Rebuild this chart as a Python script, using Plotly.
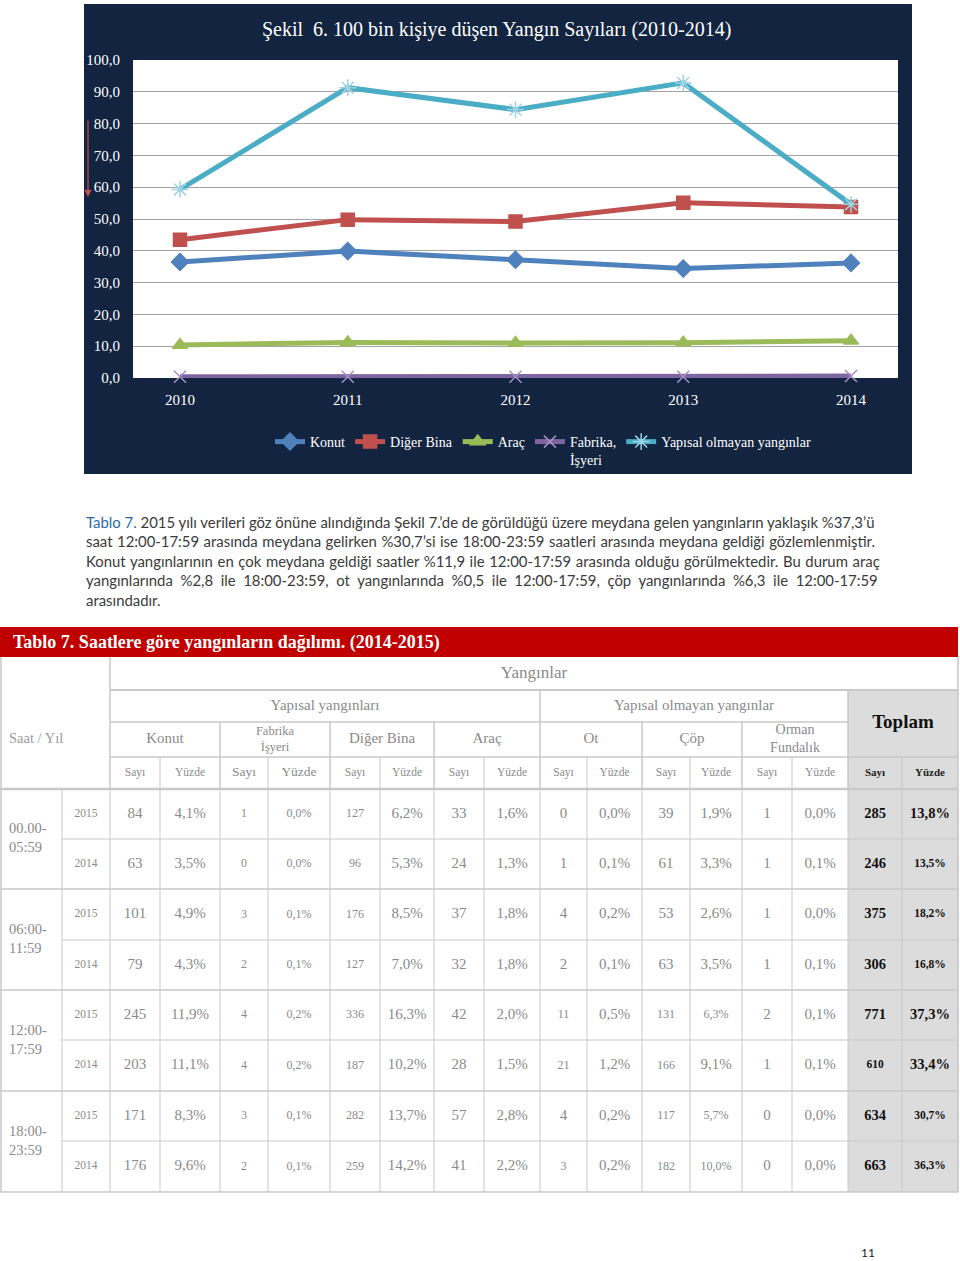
import plotly.graph_objects as go

W, H = 960, 1261

# ---------------- chart data ----------------
chart_years = ["2010", "2011", "2012", "2013", "2014"]
konut_rate = [36.5, 39.9, 37.2, 34.4, 36.2]
diger_bina_rate = [43.5, 49.8, 49.2, 55.1, 53.8]
arac_rate = [10.4, 11.2, 11.0, 11.1, 11.7]
fabrika_rate = [0.4, 0.4, 0.4, 0.4, 0.6]
yapisal_olmayan_rate = [59.3, 91.3, 84.4, 92.8, 54.6]
series_names = ["Konut", "Diğer Bina", "Araç", "Fabrika,<br>İşyeri", "Yapısal olmayan yangınlar"]
y_tick_values = [0, 10, 20, 30, 40, 50, 60, 70, 80, 90, 100]
chart_title = "Şekil  6. 100 bin kişiye düşen Yangın Sayıları (2010-2014)"

# ---------------- paragraph ----------------
para_lead = "Tablo 7."
para_lines = [
    " 2015 yılı verileri göz önüne alındığında Şekil 7.’de de görüldüğü üzere meydana gelen yangınların yaklaşık %37,3’ü",
    "saat 12:00-17:59 arasında meydana gelirken %30,7’si ise 18:00-23:59 saatleri arasında meydana geldiği gözlemlenmiştir.",
    "Konut yangınlarının en çok meydana geldiği saatler %11,9 ile 12:00-17:59 arasında olduğu görülmektedir. Bu durum araç",
    "yangınlarında %2,8 ile 18:00-23:59, ot yangınlarında %0,5 ile 12:00-17:59, çöp yangınlarında %6,3 ile 12:00-17:59",
    "arasındadır.",
]

# ---------------- table data ----------------
table_title = "Tablo 7. Saatlere göre yangınların dağılımı. (2014-2015)"
time_slots = ["00.00-<br>05:59", "06:00-<br>11:59", "12:00-<br>17:59", "18:00-<br>23:59"]
table_years = ["2015", "2014"]
fire_types = ["Konut", "Fabrika<br>İşyeri", "Diğer Bina", "Araç", "Ot", "Çöp", "Orman<br>Fundalık"]
sub_headers = ["Sayı", "Yüzde"]
page_number = "11"

konut_sayi = [84, 63, 101, 79, 245, 203, 171, 176]
konut_yuzde = [4.1, 3.5, 4.9, 4.3, 11.9, 11.1, 8.3, 9.6]
fabrika_sayi = [1, 0, 3, 2, 4, 4, 3, 2]
fabrika_yuzde = [0.0, 0.0, 0.1, 0.1, 0.2, 0.2, 0.1, 0.1]
diger_sayi = [127, 96, 176, 127, 336, 187, 282, 259]
diger_yuzde = [6.2, 5.3, 8.5, 7.0, 16.3, 10.2, 13.7, 14.2]
arac_sayi = [33, 24, 37, 32, 42, 28, 57, 41]
arac_yuzde = [1.6, 1.3, 1.8, 1.8, 2.0, 1.5, 2.8, 2.2]
ot_sayi = [0, 1, 4, 2, 11, 21, 4, 3]
ot_yuzde = [0.0, 0.1, 0.2, 0.1, 0.5, 1.2, 0.2, 0.2]
cop_sayi = [39, 61, 53, 63, 131, 166, 117, 182]
cop_yuzde = [1.9, 3.3, 2.6, 3.5, 6.3, 9.1, 5.7, 10.0]
orman_sayi = [1, 1, 1, 1, 2, 1, 0, 0]
orman_yuzde = [0.0, 0.1, 0.0, 0.1, 0.1, 0.1, 0.0, 0.0]
toplam_sayi = [285, 246, 375, 306, 771, 610, 634, 663]
toplam_yuzde = [13.8, 13.5, 18.2, 16.8, 37.3, 33.4, 30.7, 36.3]

# ---------------- style / layout ----------------
NAVY = "#12243f"
SERIF = "Liberation Serif"
SANS = "Lato"
GRID_GRAY = "#a3a3a3"
LINE_GRAY = "#c9c9c9"
TXT_GRAY = "#8a8a8a"

colors = ["#4f81bd", "#c0504d", "#9bbb59", "#8064a2", "#4bacc6"]
symbols = ["diamond", "square", "triangle-up", "x-thin-open", "asterisk-open"]
marker_colors = ["#4f81bd", "#c0504d", "#9bbb59", "#a390c4", "#9fd3e3"]
marker_sizes = [13, 13, 13, 12, 14]
para_word_spacing = [0.0, 0.7, 0.8, 3.8, 0.0]

col_edges = [110, 160, 220, 268, 330, 380, 434, 484, 540, 587, 642, 690, 742, 792, 848, 902, 958]
row_edges = [789, 839, 889, 940, 990, 1040, 1091, 1141, 1192]
hdr_edges = [657, 690, 722, 757, 789]
time_col_right = 62


def px(x):
    return x / W


def py(y):
    return 1 - y / H


fig = go.Figure()

# ---- line chart ----
series_vals = [konut_rate, diger_bina_rate, arac_rate, fabrika_rate, yapisal_olmayan_rate]
for i, (name, vals) in enumerate(zip(series_names, series_vals)):
    fig.add_trace(go.Scatter(
        x=chart_years, y=vals, name=name, mode="lines+markers",
        line=dict(color=colors[i], width=5),
        marker=dict(symbol=symbols[i], size=marker_sizes[i], color=marker_colors[i],
                    line=dict(width=1.5, color=marker_colors[i])),
        xaxis="x", yaxis="y", hoverinfo="skip", cliponaxis=False,
    ))

# ---- table text (single text trace on pixel-like axes) ----
xs, ys, texts, sizes, tcolors, tpos = [], [], [], [], [], []


def add_text(x, y, t, size, color=TXT_GRAY, pos="middle center"):
    xs.append(x); ys.append(y); texts.append(t); sizes.append(size); tcolors.append(color); tpos.append(pos)


def fmt_pct(v):
    return f"{v:.1f}".replace(".", ",") + "%"


columns = [konut_sayi, konut_yuzde, fabrika_sayi, fabrika_yuzde, diger_sayi, diger_yuzde,
           arac_sayi, arac_yuzde, ot_sayi, ot_yuzde, cop_sayi, cop_yuzde,
           orman_sayi, orman_yuzde, toplam_sayi, toplam_yuzde]

small_cells = set()
for r in range(8):
    small_cells.update({(r, 2), (r, 3), (r, 4)})
small_cells.update({(4, 8), (5, 8), (7, 8), (4, 10), (5, 10), (6, 10), (7, 10),
                    (4, 11), (6, 11), (7, 11), (1, 15), (2, 15), (3, 15), (6, 15), (7, 15), (5, 14)})

ncols = len(columns)
for c, col in enumerate(columns):
    cx = (col_edges[c] + col_edges[c + 1]) / 2
    for r, v in enumerate(col):
        cy = (row_edges[r] + row_edges[r + 1]) / 2
        t = fmt_pct(v) if c % 2 == 1 else str(v)
        size = 12 if (r, c) in small_cells else 15
        if c >= 14:
            add_text(cx, cy, f"<b>{t}</b>", size - 0.5, "#111111")
        else:
            add_text(cx, cy, t, size)

# time slot and year labels
for g, slot in enumerate(time_slots):
    cy = (row_edges[2 * g] + row_edges[2 * g + 2]) / 2
    add_text(9, cy, slot, 14.5, TXT_GRAY, "middle right")
    for k, yr in enumerate(table_years):
        r = 2 * g + k
        add_text((time_col_right + col_edges[0]) / 2, (row_edges[r] + row_edges[r + 1]) / 2, yr, 11.5)

# header labels
add_text((col_edges[0] + col_edges[-1]) / 2, (hdr_edges[0] + hdr_edges[1]) / 2, "Yangınlar", 17)
add_text((col_edges[0] + col_edges[8]) / 2, (hdr_edges[1] + hdr_edges[2]) / 2, "Yapısal yangınları", 15)
add_text((col_edges[8] + col_edges[14]) / 2, (hdr_edges[1] + hdr_edges[2]) / 2, "Yapısal olmayan yangınlar", 15)
add_text(9, (hdr_edges[0] + hdr_edges[-1]) / 2 + 16, "Saat / Yıl", 14.5, "#9a9a9a", "middle right")
type_sizes = [15, 12.5, 15, 15, 15, 15, 14]
for i, ft in enumerate(fire_types):
    add_text((col_edges[2 * i] + col_edges[2 * i + 2]) / 2, (hdr_edges[2] + hdr_edges[3]) / 2, ft, type_sizes[i])
add_text((col_edges[14] + col_edges[16]) / 2, (hdr_edges[1] + hdr_edges[3]) / 2,
         "<b>Toplam</b>", 19, "#111111")
for c in range(ncols):
    cx = (col_edges[c] + col_edges[c + 1]) / 2
    cy = (hdr_edges[3] + hdr_edges[4]) / 2
    lab = sub_headers[c % 2]
    if c >= 14:
        add_text(cx, cy, f"<b>{lab}</b>", 11, "#222222")
    elif c in (2, 3):
        add_text(cx, cy, lab, 13.5)
    else:
        add_text(cx, cy, lab, 11.5)

fig.add_trace(go.Scatter(
    x=xs, y=ys, text=texts, mode="text", textposition=tpos,
    textfont=dict(family=SERIF, size=sizes, color=tcolors),
    xaxis="x2", yaxis="y2", showlegend=False, hoverinfo="skip", cliponaxis=False,
))

# ---------------- shapes ----------------
shapes = []
shapes.append(dict(type="rect", xref="paper", yref="paper", x0=px(84), x1=px(912), y0=py(474), y1=py(4),
                   fillcolor=NAVY, line=dict(width=0), layer="below"))
shapes.append(dict(type="rect", xref="x domain", yref="y domain", x0=0, x1=1, y0=0, y1=1,
                   fillcolor="white", line=dict(width=0), layer="below"))


def hline(y, x0, x1, w=1, color=LINE_GRAY):
    shapes.append(dict(type="line", xref="x2", yref="y2", x0=x0, x1=x1, y0=y, y1=y,
                       line=dict(color=color, width=w)))


def vline(x, y0, y1, w=1, color=LINE_GRAY):
    shapes.append(dict(type="line", xref="x2", yref="y2", x0=x, x1=x, y0=y0, y1=y1,
                       line=dict(color=color, width=w)))


shapes.append(dict(type="rect", xref="x2", yref="y2", x0=0, x1=958, y0=627, y1=657,
                   fillcolor="#c00000", line=dict(width=0), layer="below"))
shapes.append(dict(type="rect", xref="x2", yref="y2", x0=col_edges[14], x1=col_edges[16],
                   y0=hdr_edges[1], y1=row_edges[-1], fillcolor="#dcdcdc", line=dict(width=0), layer="below"))

hline(hdr_edges[1], col_edges[0], col_edges[-1], 2)
hline(hdr_edges[2], col_edges[0], col_edges[14], 1.5)
hline(hdr_edges[3], col_edges[0], col_edges[-1], 1.5)
hline(hdr_edges[4], 0, col_edges[-1], 2.5)
vline(col_edges[0], hdr_edges[0], hdr_edges[4], 1.5)
vline(col_edges[8], hdr_edges[1], hdr_edges[4], 1.5)
vline(col_edges[14], hdr_edges[1], hdr_edges[4], 1.5)
for k in (2, 4, 6, 10, 12):
    vline(col_edges[k], hdr_edges[2], hdr_edges[4], 1.5)
for k in range(1, 16, 2):
    vline(col_edges[k], hdr_edges[3], hdr_edges[4], 1)
vline(col_edges[-1], hdr_edges[0], row_edges[-1], 1.5)
vline(1, hdr_edges[0], row_edges[-1], 1.5)

for x in col_edges:
    vline(x, row_edges[0], row_edges[-1])
vline(time_col_right, row_edges[0], row_edges[-1])
for r in range(1, len(row_edges)):
    if r % 2 == 0:
        hline(row_edges[r], 0, col_edges[-1], 1.5)
    else:
        hline(row_edges[r], time_col_right, col_edges[-1])

# ---------------- annotations ----------------
ann = []
ann.append(dict(text=chart_title, x=px(496), y=py(29), xref="paper", yref="paper", showarrow=False,
                xanchor="center", yanchor="middle", font=dict(family=SERIF, size=20, color="white")))
ann.append(dict(text="", x=px(88), y=py(197), xref="paper", yref="paper", showarrow=True,
                ax=0, ay=-78, arrowhead=2, arrowsize=1.2, arrowwidth=1.2, arrowcolor="#c0504d"))
line_ys = [522, 541, 561, 580, 600]
for i, (ly, txt) in enumerate(zip(line_ys, para_lines)):
    if i == 0:
        txt = f"<span style='color:#2e6aa8'>{para_lead}</span>" + txt
    if para_word_spacing[i] > 0:
        txt = f"<span style='word-spacing:{para_word_spacing[i]}px'>{txt}</span>"
    ann.append(dict(text=txt, x=px(84), y=py(ly), xref="paper", yref="paper", showarrow=False,
                    xanchor="left", yanchor="middle", font=dict(family=SANS, size=14.9, color="#3a3a3a")))
ann.append(dict(text=f"<b>{table_title}</b>", x=px(11), y=py(642), xref="paper", yref="paper",
                showarrow=False, xanchor="left", yanchor="middle",
                font=dict(family=SERIF, size=18, color="white")))
ann.append(dict(text=page_number, x=px(868), y=py(1252), xref="paper", yref="paper", showarrow=False,
                xanchor="center", yanchor="middle", font=dict(family=SANS, size=12, color="#222222")))

fig.update_layout(
    width=W, height=H,
    margin=dict(l=0, r=0, t=0, b=0, autoexpand=False),
    paper_bgcolor="white", plot_bgcolor="rgba(0,0,0,0)",
    separators=", ",
    showlegend=True,
    legend=dict(orientation="h", x=px(543), xanchor="center", y=py(426), yanchor="top",
                font=dict(family=SERIF, size=14, color="white"), bgcolor="rgba(0,0,0,0)",
                valign="top", itemwidth=30, tracegroupgap=0),
    xaxis=dict(domain=[px(133), px(898)], type="category", anchor="y",
               showgrid=False, zeroline=False, showline=False,
               ticks="outside", ticklen=8, tickcolor="rgba(0,0,0,0)",
               tickfont=dict(family=SERIF, size=15, color="white"), fixedrange=True),
    yaxis=dict(domain=[py(378), py(60)], range=[0, 100], tickvals=y_tick_values, tickformat=".1f",
               anchor="x", showgrid=True, gridcolor=GRID_GRAY, gridwidth=1.2, zeroline=False,
               showline=False, ticks="outside", ticklen=9, tickcolor="rgba(0,0,0,0)",
               tickfont=dict(family=SERIF, size=15, color="white"), fixedrange=True),
    xaxis2=dict(domain=[0, 1], range=[0, W], anchor="y2", visible=False, fixedrange=True),
    yaxis2=dict(domain=[0, 1], range=[H, 0], anchor="x2", visible=False, fixedrange=True),
    shapes=shapes,
    annotations=ann,
)

fig.write_html("out.html")
